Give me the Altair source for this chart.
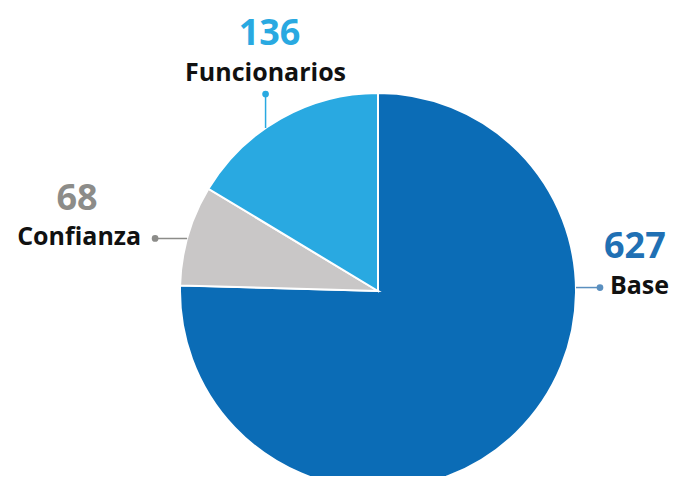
import math
import altair as alt
import pandas as pd

# ---- data ----
categories = ["Base", "Confianza", "Funcionarios"]
values = [627, 68, 136]

# ---- styles ----
slice_colors = ["#0b6cb6", "#c9c7c7", "#29a9e1"]
number_colors = ["#2070b4", "#8c8c89", "#29a9e1"]
line_colors = ["#5a8fbf", "#8c8c89", "#29a9e1"]
FONT = "Open Sans"

# ---- layout (pixels, chart coordinates) ----
W, H = 663, 468
CX, CY, R = 370, 283, 198
# anchor angle on the rim (deg, clockwise from 12 o'clock), leader direction & length
anchor = {
    "Base": (89.0, (1, 0), 24),
    "Confianza": (285.4, (-1, 0), 32),
    "Funcionarios": (325.4, (0, -1), 34),
}
# text offsets relative to the dot: (align, dx, dy) for name and number
name_off = {
    "Base": ("left", 10, 6),
    "Confianza": ("right", -14, 7),
    "Funcionarios": ("center", 0, -13),
}
num_off = {
    "Base": ("left", 4, -30),
    "Confianza": ("center", -78, -28),
    "Funcionarios": ("center", 4, -49),
}

pie_df = pd.DataFrame({"category": categories, "value": values, "order": list(range(len(categories)))})

pie = alt.Chart(pie_df).mark_arc(
    radius=R, x=CX, y=CY, stroke="white", strokeWidth=2
).encode(
    theta=alt.Theta("value:Q", stack=True),
    order=alt.Order("order:Q"),
    color=alt.Color("category:N", scale=alt.Scale(domain=categories, range=slice_colors), legend=None),
)

layers = [pie]
for i, cat in enumerate(categories):
    ang, (ux, uy), length = anchor[cat]
    a = math.radians(ang)
    ex, ey = CX + R * math.sin(a), CY - R * math.cos(a)
    if ux != 0:
        dx_, dy_ = ex + ux * length, ey
    else:
        dx_, dy_ = ex, ey + uy * length
    row = pd.DataFrame({
        "category": [cat], "value": [values[i]],
        "x1": [ex], "y1": [ey], "x2": [dx_], "y2": [dy_],
    })
    base = alt.Chart(row)
    rule = base.mark_rule(color=line_colors[i], strokeWidth=1.5).encode(
        x=alt.X("x1:Q", scale=None, axis=None),
        y=alt.Y("y1:Q", scale=None, axis=None),
        x2="x2:Q", y2="y2:Q",
    )
    dot = base.mark_circle(color=line_colors[i], size=45, opacity=1).encode(
        x=alt.X("x2:Q", scale=None, axis=None),
        y=alt.Y("y2:Q", scale=None, axis=None),
    )
    na, ndx, ndy = name_off[cat]
    name = base.mark_text(
        align=na, baseline="alphabetic", dx=ndx, dy=ndy,
        font=FONT, fontSize=25, fontWeight="bold", color="#111111",
    ).encode(
        x=alt.X("x2:Q", scale=None, axis=None),
        y=alt.Y("y2:Q", scale=None, axis=None),
        text="category:N",
    )
    ma, mdx, mdy = num_off[cat]
    num = base.mark_text(
        align=ma, baseline="alphabetic", dx=mdx, dy=mdy,
        font=FONT, fontSize=36, fontWeight="bold", color=number_colors[i],
    ).encode(
        x=alt.X("x2:Q", scale=None, axis=None),
        y=alt.Y("y2:Q", scale=None, axis=None),
        text="value:Q",
    )
    layers += [rule, dot, name, num]

chart = alt.layer(*layers).properties(
    width=W, height=H,
    autosize=alt.AutoSizeParams(type="none"),
    padding=0,
    background="white",
).configure_view(stroke=None)

chart.save("out.html", embed_options={"renderer": "svg", "actions": False})
